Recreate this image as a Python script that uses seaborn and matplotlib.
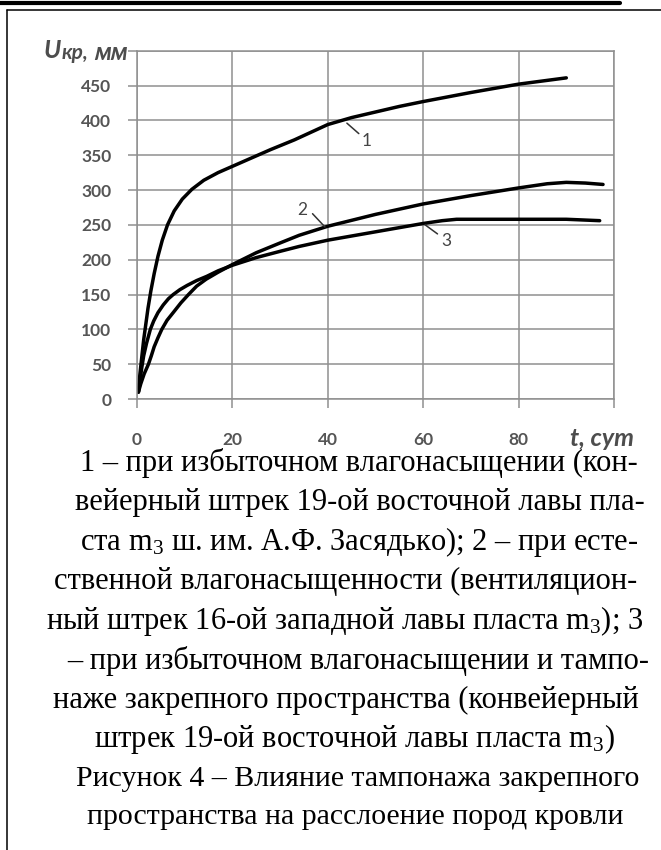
import matplotlib
matplotlib.use("Agg")
import matplotlib.pyplot as plt
import pandas as pd
import seaborn as sns
from matplotlib.lines import Line2D

# Roof rock displacement U (mm) versus time t (days)
# 1 - excessive water saturation
t1 = [0.3, 0.6, 1.0, 1.4, 1.8, 2.3, 2.9, 3.6, 4.4, 5.3, 6.4, 7.8, 9.5, 11.5, 14, 17, 20,
      24, 28, 33, 40, 45, 50, 55, 60, 70, 80, 90]
u1 = [10, 35, 60, 85, 105, 130, 155, 180, 205, 228, 250, 270, 287, 301, 314, 325, 334,
      346, 358, 372, 394, 404, 412, 420, 427, 440, 452, 461]
# 2 - natural water saturation
t2 = [0.3, 0.8, 1.5, 2.4, 3.0, 3.6, 4.4, 5.2, 6.3, 7.7, 9.2, 10.8, 12.5, 14.5, 17, 20,
      25, 30, 34, 40, 50, 60, 70, 80, 86, 90, 94, 97.7]
u2 = [10, 22, 36, 50, 62, 75, 88, 100, 113, 125, 138, 150, 162, 172, 182, 193,
      210, 224, 235, 248, 265, 280, 292, 303, 309, 311, 310, 308]
# 3 - excessive water saturation with back-fill grouting
t3 = [0.3, 0.6, 1.0, 1.4, 2.0, 2.8, 3.5, 4.4, 5.5, 6.6, 7.6, 9.0, 10.5, 12.5, 14.6, 17, 20,
      25, 30, 34, 40, 50, 60, 64, 67, 80, 90, 97]
u3 = [10, 25, 45, 62, 80, 100, 112, 124, 135, 144, 150, 157, 163, 170, 176, 184, 192,
      203, 212, 219, 228, 240, 252, 256, 258, 258, 258, 256]

curve_names = ["1", "2", "3"]
x_ticks = [0, 20, 40, 60, 80, 100]
x_tick_labels = ["0", "20", "40", "60", "80", ""]
y_ticks = [0, 50, 100, 150, 200, 250, 300, 350, 400, 450, 500]
y_tick_labels = ["0", "50", "100", "150", "200", "250", "300", "350", "400", "450", ""]

caption_lines = [
    "1 – при избыточном влагонасыщении (кон-",
    "вейерный штрек 19-ой восточной лавы пла-",
    "ста m$_3$ ш. им. А.Ф. Засядько); 2 – при есте-",
    "ственной влагонасыщенности (вентиляцион-",
    "ный штрек 16-ой западной лавы пласта m$_3$); 3",
    "– при избыточном влагонасыщении и тампо-",
    "наже закрепного пространства (конвейерный",
    "штрек 19-ой восточной лавы пласта m$_3$)",
]
caption_centers = [359, 360, 359, 346, 345, 358, 346, 355]
figure_title = ["Рисунок 4 – Влияние тампонажа закрепного",
                "пространства на расслоение пород кровли"]
title_centers = [358, 355]

sns.set_theme(style="white")
plt.rcParams["font.family"] = ["Lato", "DejaVu Sans"]
plt.rcParams["mathtext.fontset"] = "custom"
plt.rcParams["mathtext.rm"] = "Liberation Serif"
plt.rcParams["mathtext.it"] = "Liberation Serif:italic"

W, H = 661, 850
fig = plt.figure(figsize=(W / 100, H / 100), dpi=100)
fig.patch.set_facecolor("white")


def fx(px):
    return px / W


def fy(py):
    return 1 - py / H


ax = fig.add_axes([fx(137), fy(399), fx(614) - fx(137), fy(50.7) - fy(399)])

df = pd.concat([
    pd.DataFrame({"t": t, "u": u, "curve": n})
    for t, u, n in zip([t1, t2, t3], [u1, u2, u3], curve_names)
])
sns.lineplot(data=df, x="t", y="u", units="curve", estimator=None, sort=False,
             color="black", linewidth=2.5, legend=False, ax=ax)
for ln in ax.lines:
    ln.set_solid_capstyle("round")
    ln.set_solid_joinstyle("round")

grid_c = "#8f8f8f"
ax.set_xlim(0, 100)
ax.set_ylim(0, 500)
ax.set_xticks(x_ticks)
ax.set_xticklabels(x_tick_labels)
ax.set_yticks(y_ticks)
ax.set_yticklabels(y_tick_labels)
ax.grid(True, color=grid_c, linewidth=1.1)
ax.set_axisbelow(True)
for s in ax.spines.values():
    s.set_color(grid_c)
    s.set_linewidth(1.1)
ax.tick_params(axis="both", which="both", length=6.5, width=1.1, color=grid_c,
               labelcolor="#555555", labelsize=12.5)
ax.tick_params(axis="y", pad=12, left=True)
ax.tick_params(axis="x", pad=17, bottom=True)
for lab in ax.get_xticklabels() + ax.get_yticklabels():
    lab.set_fontweight("bold")
ax.set_xlabel("")
ax.set_ylabel("")

# curve labels with leaders
lab_kw = dict(color="#444444", fontsize=12.5, ha="center", va="center")
leaders = [((44, 396), (46.5, 381), (48.2, 371)),
           ((39.4, 247), (36.8, 266), (34.6, 272)),
           ((60.4, 250), (63.0, 237), (64.8, 227))]
for name, (p0, p1, pt) in zip(curve_names, leaders):
    ax.plot([p0[0], p1[0]], [p0[1], p1[1]], color="#333333", lw=1.1)
    ax.text(pt[0], pt[1], name, **lab_kw)

# axis titles
ttl_kw = dict(fontstyle="italic", fontweight="bold", color="#4d4d4d", va="center",
              ha="left")
renderer = fig.canvas.get_renderer()
pieces = [("U", 18, 50, 0), ("кр,", 15, 53, 1), ("мм", 17, 52, 6)]
cursor = 0.0
parts = []
for txt, size, ypx, gap in pieces:
    cursor += gap
    tobj = fig.text(fx(cursor), fy(ypx), txt, fontsize=size, **ttl_kw)
    ext = tobj.get_window_extent(renderer)
    parts.append((tobj, cursor))
    cursor += ext.width
shift = 128 - cursor
for tobj, x0 in parts:
    tobj.set_x(fx(x0 + shift))
fig.text(fx(602), fy(438), "t, сут", fontsize=18, ha="center",
         **{k: v for k, v in ttl_kw.items() if k != "ha"})

# caption
cap_kw = dict(family=["Liberation Serif", "DejaVu Serif"], color="black",
              ha="center", va="center")
for i, (line, cx) in enumerate(zip(caption_lines, caption_centers)):
    fig.text(fx(cx), fy(463 + i * 39.5), line, fontsize=22, **cap_kw)
for i, (line, cx) in enumerate(zip(figure_title, title_centers)):
    fig.text(fx(cx), fy(779 + i * 37.5), line, fontsize=21.5, **cap_kw)

# page rules and frame
fig.add_artist(Line2D([0, fx(620)], [fy(2.5), fy(2.5)], color="black", lw=3.0,
                      transform=fig.transFigure))
fig.add_artist(Line2D([fx(7), 1], [fy(9.5), fy(9.5)], color="black", lw=1.1,
                      transform=fig.transFigure))
fig.add_artist(Line2D([fx(7), fx(7)], [fy(9.5), 0], color="black", lw=1.1,
                      transform=fig.transFigure))

fig.savefig("out.png", dpi=100, facecolor="white")
